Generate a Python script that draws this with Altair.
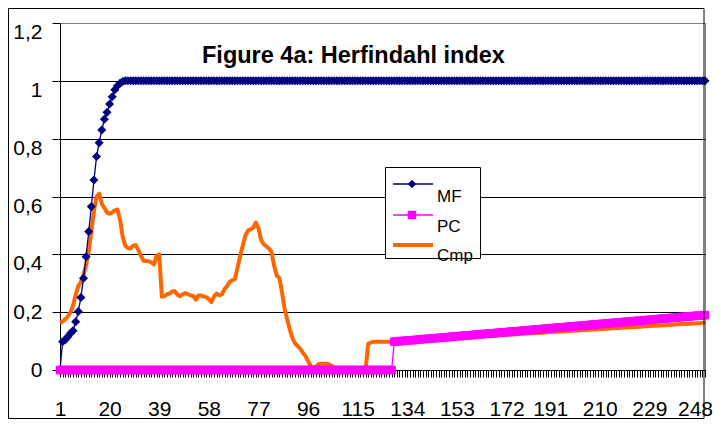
import altair as alt
import pandas as pd

categories = list(range(1, 249))

mf_rise = [0.0, 0.098, 0.105, 0.115, 0.127, 0.136, 0.167, 0.202, 0.251, 0.317,
           0.392, 0.479, 0.565, 0.657, 0.738, 0.786, 0.830, 0.867, 0.891, 0.920,
           0.945, 0.969, 0.983, 0.992, 0.998]
mf = mf_rise + [1.0] * 223

pc_rise = [
    0.098, 0.099, 0.100, 0.100, 0.101, 0.102, 0.103, 0.103, 0.104, 0.105,
    0.106, 0.107, 0.107, 0.108, 0.109, 0.110, 0.110, 0.111, 0.112, 0.113,
    0.113, 0.114, 0.115, 0.116, 0.117, 0.117, 0.118, 0.119, 0.120, 0.120,
    0.121, 0.122, 0.123, 0.124, 0.124, 0.125, 0.126, 0.127, 0.127, 0.128,
    0.129, 0.130, 0.130, 0.131, 0.132, 0.133, 0.134, 0.134, 0.135, 0.136,
    0.137, 0.137, 0.138, 0.139, 0.140, 0.141, 0.141, 0.142, 0.143, 0.144,
    0.144, 0.145, 0.146, 0.147, 0.147, 0.148, 0.149, 0.150, 0.151, 0.151,
    0.152, 0.153, 0.154, 0.154, 0.155, 0.156, 0.157, 0.158, 0.158, 0.159,
    0.160, 0.161, 0.161, 0.162, 0.163, 0.164, 0.164, 0.165, 0.166, 0.167,
    0.168, 0.168, 0.169, 0.170, 0.171, 0.171, 0.172, 0.173, 0.174, 0.174,
    0.175, 0.176, 0.177, 0.178, 0.178, 0.179, 0.180, 0.181, 0.181, 0.182,
    0.183, 0.184, 0.185, 0.185, 0.186, 0.187, 0.188, 0.188, 0.189, 0.190]
pc = [0.0] * 128 + pc_rise

cmp_values = [
    0.163, 0.168, 0.175, 0.185, 0.200, 0.222, 0.260, 0.290, 0.305, 0.330,
    0.363, 0.410, 0.480, 0.550, 0.600, 0.610, 0.575, 0.560, 0.545, 0.540,
    0.545, 0.552, 0.555, 0.520, 0.460, 0.430, 0.422, 0.420, 0.430, 0.432,
    0.415, 0.395, 0.378, 0.377, 0.376, 0.372, 0.365, 0.395, 0.400, 0.254,
    0.255, 0.262, 0.265, 0.272, 0.272, 0.260, 0.255, 0.262, 0.266, 0.262,
    0.258, 0.256, 0.243, 0.258, 0.258, 0.254, 0.252, 0.245, 0.235, 0.255,
    0.264, 0.258, 0.262, 0.280, 0.290, 0.305, 0.310, 0.315, 0.355, 0.395,
    0.430, 0.465, 0.482, 0.487, 0.492, 0.510, 0.490, 0.450, 0.435, 0.428,
    0.420, 0.408, 0.360, 0.327, 0.318, 0.270, 0.212, 0.175, 0.140, 0.110,
    0.092, 0.083, 0.073, 0.060, 0.048, 0.030, 0.015, 0.005, 0.012, 0.020,
    0.022, 0.022, 0.022, 0.020, 0.015, 0.005, 0.0, 0.0, 0.0, 0.0,
    0.0, 0.0, 0.0, 0.0, 0.0, 0.0, 0.0, 0.0, 0.090, 0.095,
    0.098, 0.098, 0.098, 0.098, 0.098, 0.098, 0.098, 0.098,
    0.098, 0.099, 0.099, 0.100, 0.100, 0.101, 0.101, 0.102, 0.102, 0.103,
    0.104, 0.104, 0.105, 0.105, 0.106, 0.106, 0.107, 0.107, 0.108, 0.109,
    0.109, 0.110, 0.110, 0.111, 0.111, 0.112, 0.112, 0.113, 0.114, 0.114,
    0.115, 0.115, 0.116, 0.116, 0.117, 0.117, 0.118, 0.118, 0.119, 0.120,
    0.120, 0.121, 0.121, 0.122, 0.122, 0.123, 0.123, 0.124, 0.125, 0.125,
    0.126, 0.126, 0.127, 0.127, 0.128, 0.128, 0.129, 0.129, 0.130, 0.131,
    0.131, 0.132, 0.132, 0.133, 0.133, 0.134, 0.134, 0.135, 0.136, 0.136,
    0.137, 0.137, 0.138, 0.138, 0.139, 0.139, 0.140, 0.140, 0.141, 0.142,
    0.142, 0.143, 0.143, 0.144, 0.144, 0.145, 0.145, 0.146, 0.147, 0.147,
    0.148, 0.148, 0.149, 0.149, 0.150, 0.150, 0.151, 0.151, 0.152, 0.153,
    0.153, 0.154, 0.154, 0.155, 0.155, 0.156, 0.156, 0.157, 0.158, 0.158,
    0.159, 0.159, 0.160, 0.160, 0.161, 0.161, 0.162, 0.162, 0.163, 0.164]

y_ticks = [0, 0.2, 0.4, 0.6, 0.8, 1.0, 1.2]
series_names = ["MF", "PC", "Cmp"]
series_colors = ["#000080", "#FF00FF", "#FF6600"]
title_text = "Figure 4a: Herfindahl index"

assert len(mf) == 248 and len(pc) == 248 and len(cmp_values) == 248

df = pd.DataFrame({"cat": categories, "MF": mf, "PC": pc, "Cmp": cmp_values})

FONT = "Liberation Sans"
W, H = 645, 347

xscale = alt.Scale(domain=[1, 248], nice=False, zero=False)
yscale = alt.Scale(domain=[0, 1.2], nice=False, zero=True)

x_axis = alt.Axis(
    values=categories,
    labelExpr="(datum.value - 1) % 19 == 0 ? format(datum.value, 'd') : ''",
    labelOverlap=False, labelFlush=False, grid=False,
    tickSize=7, labelPadding=21, labelFontSize=21, labelFont=FONT,
    labelColor="black", domainColor="black", tickColor="black",
    labelOffset={"condition": [{"test": "datum.value == 248", "value": -10},
                               {"test": "datum.value > 180", "value": -6}],
                 "value": 0},
)
y_axis = alt.Axis(
    values=y_ticks,
    labelExpr="replace(format(datum.value, '.1~f'), '.', ',')",
    tickSize=8, labelPadding=10, labelFontSize=21, labelFont=FONT,
    labelColor="black", domainColor="black", tickColor="black",
    grid=True, gridWidth=1,
    gridColor={"condition": {"test": "datum.value > 1.1", "value": "#808080"}, "value": "black"},
    labelOffset={"condition": {"test": "datum.value > 0.3", "value": 9.5}, "value": 0},
)

base = alt.Chart(df)
X = alt.X("cat:Q", scale=xscale, axis=x_axis, title=None)


def Y(field):
    return alt.Y(f"{field}:Q", scale=yscale, axis=y_axis, title=None)


cmp_line = base.mark_line(color=series_colors[2], strokeWidth=4, strokeJoin="round").encode(
    x=X, y=Y("Cmp"))
mf_line = base.mark_line(color=series_colors[0], strokeWidth=1.3).encode(x=X, y=Y("MF"))
pc_line = base.mark_line(color=series_colors[1], strokeWidth=1.3).encode(x=X, y=Y("PC"))
mf_pts = base.mark_point(shape="diamond", filled=True, size=82, opacity=1,
                         color=series_colors[0]).encode(x=X, y=Y("MF"))
pc_pts = base.mark_point(shape="square", filled=True, size=72, opacity=1,
                         color=series_colors[1]).encode(x=X, y=Y("PC"))

one = alt.Chart(pd.DataFrame({"a": [0]}))

title = one.mark_text(text=title_text, font=FONT, fontSize=23.5, fontWeight="bold",
                      align="left", baseline="alphabetic", color="black").encode(
    x=alt.value(142), y=alt.value(39.5))

frame = one.mark_rect(fill=None, stroke="black", strokeWidth=1).encode(
    x=alt.value(-51.5), x2=alt.value(644), y=alt.value(-14.5), y2=alt.value(395.5))

leg_box = one.mark_rect(fill="white", stroke="black", strokeWidth=1).encode(
    x=alt.value(325.5), x2=alt.value(420.5), y=alt.value(144.5), y2=alt.value(235.5))

leg_rows = [161, 192, 222]
leg_text_y = [178.7, 208.7, 237.5]
legend_layers = []
for i, name in enumerate(series_names):
    sw = 4 if name == "Cmp" else 1.3
    legend_layers.append(one.mark_rule(color=series_colors[i], strokeWidth=sw).encode(
        x=alt.value(333), x2=alt.value(373), y=alt.value(leg_rows[i])))
    if name == "MF":
        legend_layers.append(one.mark_point(shape="diamond", filled=True, size=72, opacity=1,
                                            color=series_colors[i]).encode(
            x=alt.value(352), y=alt.value(leg_rows[i])))
    if name == "PC":
        legend_layers.append(one.mark_point(shape="square", filled=True, size=72, opacity=1,
                                            color=series_colors[i]).encode(
            x=alt.value(352), y=alt.value(leg_rows[i])))
    legend_layers.append(one.mark_text(text=name, font=FONT, fontSize=17, align="left",
                                       baseline="alphabetic", color="black").encode(
        x=alt.value(377), y=alt.value(leg_text_y[i])))

chart = alt.layer(
    cmp_line, mf_line, pc_line, mf_pts, pc_pts, frame, title, leg_box, *legend_layers
).properties(
    width=W, height=H,
    autosize=alt.AutoSizeParams(type="none"),
    padding={"left": 52, "top": 15, "right": 8, "bottom": 49},
    background="white",
).configure_view(stroke="#808080", strokeWidth=1)

chart.save("out.html", embed_options={"renderer": "svg", "actions": False})
